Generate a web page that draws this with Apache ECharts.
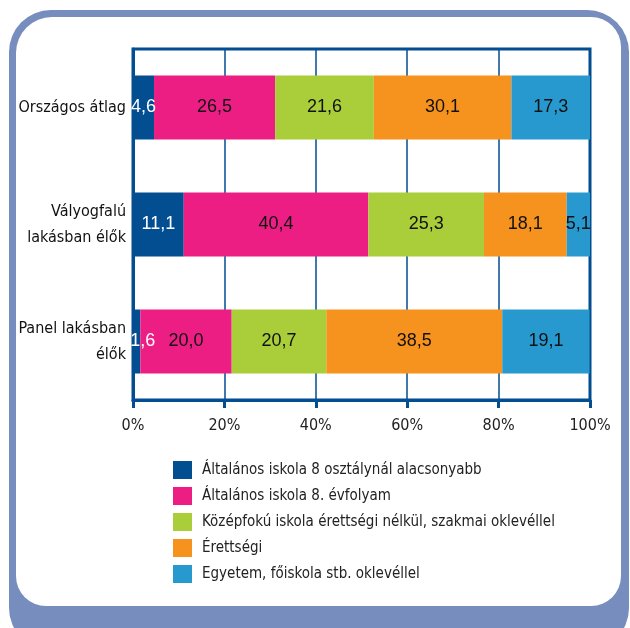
<!DOCTYPE html>
<html>
<head>
<meta charset="utf-8">
<script src="https://cdn.jsdelivr.net/npm/echarts@6/dist/echarts.min.js"></script>
<style>html,body{margin:0;padding:0;background:#fff;}#c{width:630px;height:628px;}</style>
</head>
<body>
<div id="c"></div>
<script>
var categories = ['Országos átlag', 'Vályogfalú\nlakásban élők', 'Panel lakásban\nélők'];
var seriesNames = [
  'Általános iskola 8 osztálynál alacsonyabb',
  'Általános iskola 8. évfolyam',
  'Középfokú iskola érettségi nélkül, szakmai oklevéllel',
  'Érettségi',
  'Egyetem, főiskola stb. oklevéllel'
];
var s1 = [4.6, 11.1, 1.6];
var s2 = [26.5, 40.4, 20.0];
var s3 = [21.6, 25.3, 20.7];
var s4 = [30.1, 18.1, 38.5];
var s5 = [17.3, 5.1, 19.1];
var xTicks = [0, 20, 40, 60, 80, 100];

var colors = ['#034d91', '#ec1e84', '#a9ce3a', '#f6921e', '#2799ce'];
var labelColors = ['#ffffff', '#111111', '#111111', '#111111', '#111111'];
var allData = [s1, s2, s3, s4, s5];
var condensed = '"DejaVu Sans Condensed", "Liberation Sans Narrow", sans-serif';

var chart = echarts.init(document.getElementById('c'));
var series = allData.map(function (d, i) {
  return {
    name: seriesNames[i],
    type: 'bar',
    stack: 'total',
    barWidth: 64,
    itemStyle: { color: colors[i] },
    label: {
      show: true,
      position: 'inside',
      color: labelColors[i],
      fontFamily: '"Liberation Sans", Arial, sans-serif',
      fontSize: 18,
      formatter: function (p) { return p.value.toFixed(1).replace('.', ','); }
    },
    data: d.map(function (v, j) {
      if (i === 0 && v < 3) {
        return { value: v, label: { offset: [6, 0] } };
      }
      return v;
    })
  };
});

chart.setOption({
  animation: false,
  color: colors,
  graphic: [
    { type: 'rect', z: -10, silent: true, shape: { x: 9, y: 10, width: 620, height: 640, r: 42 }, style: { fill: '#768dbd' } },
    { type: 'rect', z: -9, silent: true, shape: { x: 16, y: 17, width: 605, height: 589, r: [36, 30, 30, 30] }, style: { fill: '#ffffff' } }
  ],
  grid: {
    left: 133, right: 40, top: 49, bottom: 228,
    outerBoundsMode: 'none',
    containLabel: false,
    show: true, borderColor: '#034d91', borderWidth: 3, backgroundColor: '#ffffff'
  },
  xAxis: {
    type: 'value', min: 0, max: 100, interval: 20,
    axisLine: { show: true, lineStyle: { color: '#034d91', width: 3 } },
    axisTick: { show: true, length: 8, lineStyle: { color: '#034d91', width: 3 } },
    splitLine: { show: true, lineStyle: { color: '#034d91', width: 1.5 } },
    axisLabel: {
      margin: 18,
      color: '#222',
      fontFamily: condensed,
      fontSize: 16,
      formatter: function (v) { return v + '%'; }
    }
  },
  yAxis: {
    type: 'category', data: categories, inverse: true,
    axisLine: { show: true, lineStyle: { color: '#034d91', width: 3 } },
    axisTick: { show: false },
    axisLabel: {
      margin: 7,
      color: '#111',
      fontFamily: condensed,
      fontSize: 16,
      lineHeight: 26,
      align: 'right'
    }
  },
  legend: {
    orient: 'vertical',
    left: 173, top: 461,
    padding: 0,
    itemWidth: 19, itemHeight: 18, itemGap: 8,
    icon: 'rect',
    data: seriesNames,
    textStyle: { color: '#222', fontFamily: condensed, fontSize: 15, padding: [0, 0, 0, 5] }
  },
  series: series
});
</script>
</body>
</html>
